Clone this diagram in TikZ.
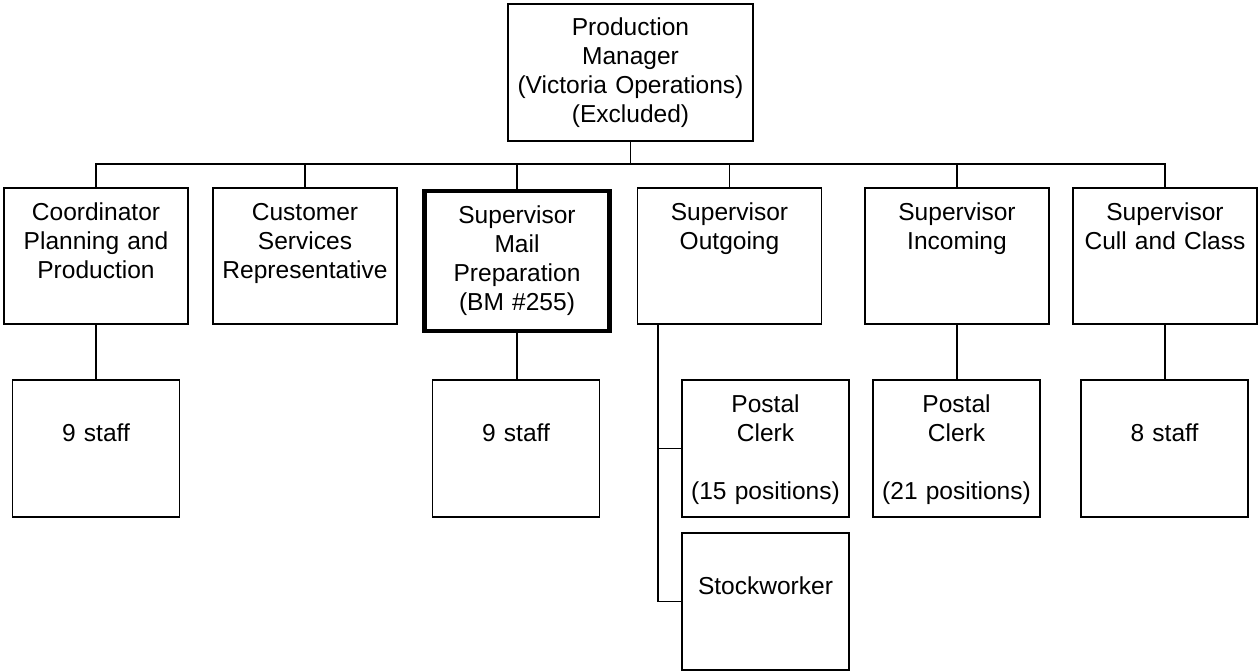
\documentclass[tikz,border=0pt]{standalone}
\usepackage{fontspec}
\setmainfont{Liberation Sans}

\tikzset{
  orgbox/.style={draw, line width=1.4pt, inner sep=0pt, align=center,
    font=\fontsize{18.4}{21.75}\selectfont, text height=24pt},
  mgrbox/.style={orgbox, text width=183.75pt, text depth=78.75pt},
  supbox/.style={orgbox, text width=138pt, text depth=78pt},
  keybox/.style={supbox, line width=3.6pt, text width=138.75pt, text depth=81pt},
  staffbox/.style={orgbox, text width=125.25pt, text depth=78.75pt},
  link/.style={line width=1.4pt}
}

\begin{document}
\begin{tikzpicture}[x=0.75pt, y=-0.75pt]
\useasboundingbox (0,0) rectangle (1258,671);

% manager
\node[mgrbox] (mgr) at (630.5,72.5) {Production\\Manager\\(Victoria Operations)\\(Excluded)};

% supervisors
\node[supbox] (coord) at (96,256) {Coordinator\\Planning and\\Production};
\node[supbox] (csr) at (305,256) {Customer\\Services\\Representative};
\node[keybox] (prep) at (517,261) {Supervisor\\Mail\\Preparation\\(BM \#255)};
\node[supbox] (outg) at (729.5,256) {Supervisor\\Outgoing};
\node[supbox] (inc) at (957,256) {Supervisor\\Incoming};
\node[supbox] (cull) at (1165,256) {Supervisor\\Cull and Class};

% staff
\node[staffbox] (coordstaff) at (96,448.5) {~\\9 staff};
\node[staffbox] (prepstaff) at (516,448.5) {~\\9 staff};
\node[staffbox] (clerkout) at (765.5,448.5) {Postal\\Clerk\\~\\(15 positions)};
\node[staffbox] (stock) at (765.5,601.5) {~\\Stockworker};
\node[staffbox] (clerkin) at (956.5,448.5) {Postal\\Clerk\\~\\(21 positions)};
\node[staffbox] (cullstaff) at (1164.5,448.5) {~\\8 staff};

% lines
\coordinate (bus) at (630.5,164);
\draw[link] (mgr.south) -- (bus);
\draw[link] (coord.north) |- (bus) -| (cull.north);
\foreach \n in {csr,prep,outg,inc}
  \draw[link] (\n.north) -- (\n.north |- bus);
\foreach \a/\b in {coord/coordstaff,prep/prepstaff,inc/clerkin,cull/cullstaff}
  \draw[link] (\a.south) -- (\a.south |- \b.north);
\coordinate (trunk) at ([xshift=-17.25pt]clerkout.west |- outg.south);
\draw[link] (trunk) |- (clerkout.west);
\draw[link] (trunk) |- (stock.west);
\end{tikzpicture}
\end{document}
